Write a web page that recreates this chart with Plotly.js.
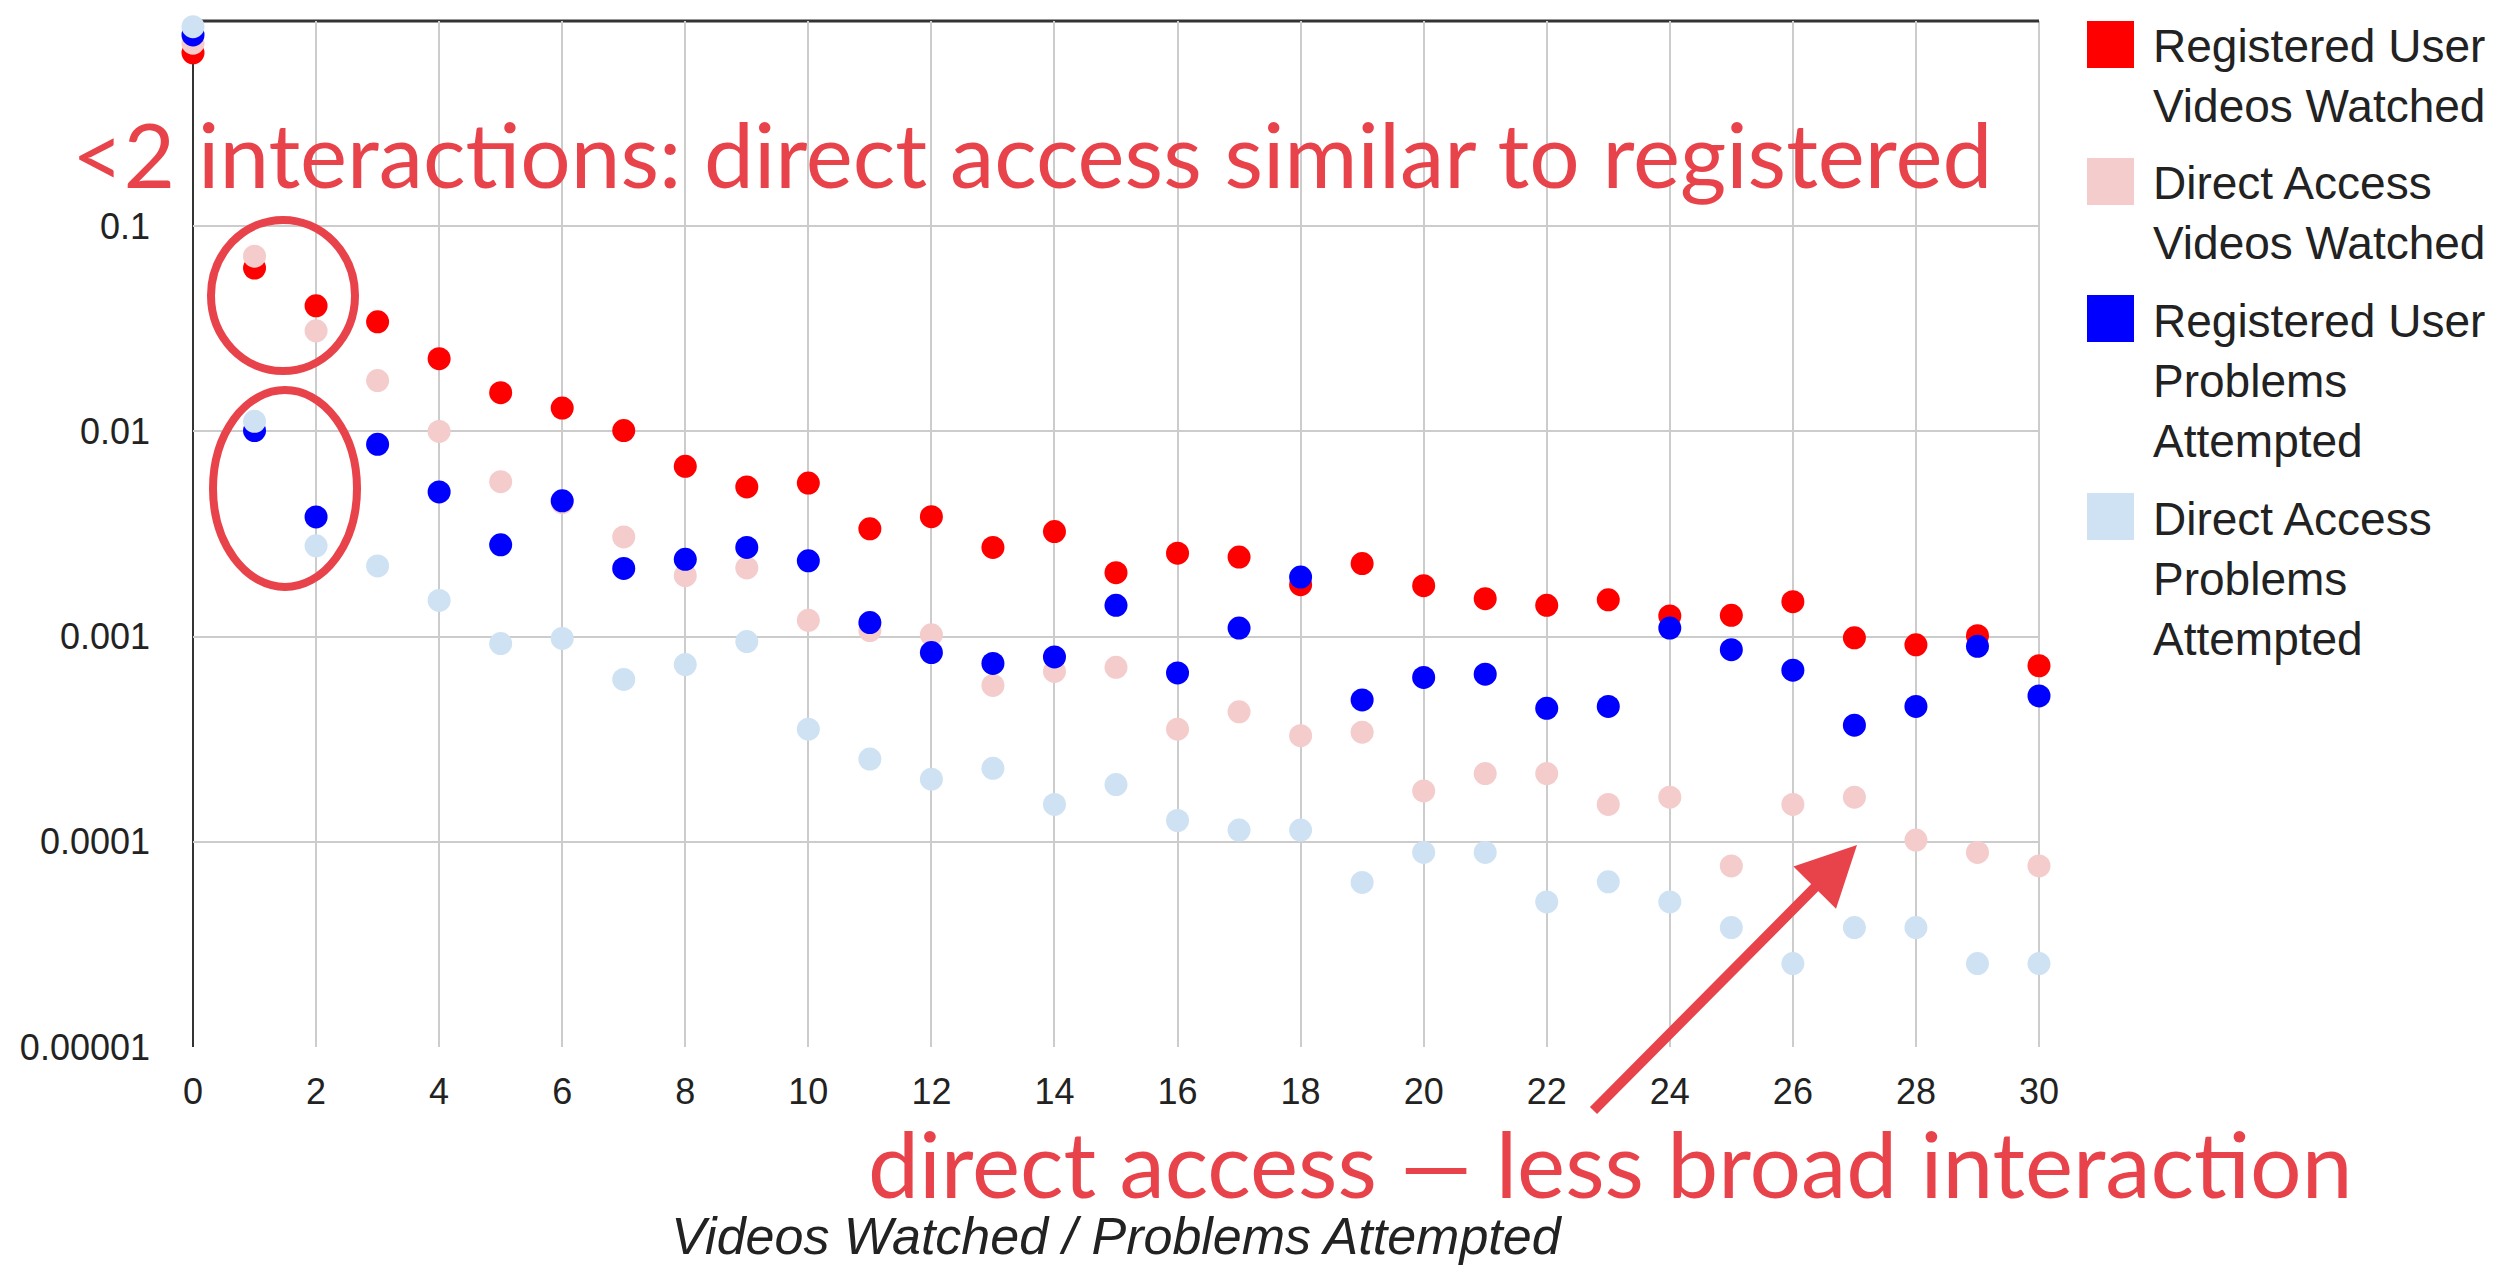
<!DOCTYPE html>
<html>
<head>
<meta charset="utf-8">
<script src="https://cdn.plot.ly/plotly-3.0.1.min.js"></script>
<style>html,body{margin:0;padding:0;background:#fff;}#chart{width:2500px;height:1265px;}</style>
</head>
<body>
<div id="chart"></div>
<script>
// ---- data ----
var interactions = [0,1,2,3,4,5,6,7,8,9,10,11,12,13,14,15,16,17,18,19,20,21,22,23,24,25,26,27,28,29,30];
var seriesNames = [
  "Registered User Videos Watched",
  "Direct Access Videos Watched",
  "Registered User Problems Attempted",
  "Direct Access Problems Attempted"
];
var legendLabels = [
  "Registered User<br>Videos Watched",
  "Direct Access<br>Videos Watched",
  "Registered User<br>Problems<br>Attempted",
  "Direct Access<br>Problems<br>Attempted"
];
var regVideos = [0.70,0.0625,0.0409,0.0342,0.0226,0.01545,0.0130,0.0101,0.00676,0.00536,0.00560,0.00335,0.00384,0.00272,0.00325,0.00205,0.00255,0.00244,0.00179,0.00227,0.00177,0.00153,0.00142,0.00151,0.00126,0.00127,0.00148,0.000987,0.000912,0.00101,0.000721];
var daVideos = [0.78,0.0714,0.0309,0.0177,0.0100,0.00569,0.0045,0.00306,0.00198,0.00216,0.00120,0.00107,0.00102,0.000578,0.000676,0.000708,0.000354,0.00043,0.000329,0.000342,0.000177,0.000215,0.000215,0.000152,0.000165,0.0000763,0.000152,0.000165,0.000102,0.0000887,0.0000763];
var regProblems = [0.855,0.0101,0.00383,0.00865,0.00507,0.0028,0.00459,0.00215,0.00238,0.00272,0.00234,0.00117,0.000836,0.00074,0.000796,0.00142,0.000665,0.0011,0.00195,0.000491,0.000632,0.000656,0.000447,0.000457,0.0011,0.000863,0.000686,0.00037,0.000457,0.000897,0.000514];
var daProblems = [0.938,0.0112,0.00277,0.00221,0.0015,0.000925,0.00098,0.000618,0.000731,0.000946,0.000354,0.000253,0.000202,0.000228,0.000152,0.00019,0.000127,0.000114,0.000114,0.0000634,0.0000887,0.0000887,0.0000509,0.0000638,0.0000509,0.0000382,0.0000255,0.0000382,0.0000382,0.0000255,0.0000255];
var colors = ["#ff0000","#f4cccc","#0000ff","#cfe2f3"];
var yTickVals = [0.00001,0.0001,0.001,0.01,0.1];
var yTickText = ["0.00001","0.0001","0.001","0.01","0.1"];
var xAxisTitle = "Videos Watched / Problems Attempted";
var note1 = "<2 interactions: direct access similar to registered";
var note2 = "direct access \u2014 less broad interaction";

// ---- geometry helpers (pixel -> paper) ----
var W = 2500, H = 1265;
var L = 193, R = 2039, T = 21, B = 1047;
function px(x){ return (x - L) / (R - L); }
function py(y){ return (B - y) / (B - T); }

var seriesValues = [regVideos, daVideos, regProblems, daProblems];
var traces = seriesValues.map(function(vals, i){
  return {
    type: "scatter", mode: "markers",
    x: interactions, y: vals, name: seriesNames[i],
    marker: {color: colors[i], size: 23, line: {width: 0}},
    showlegend: false, cliponaxis: false,
    hovertemplate: "%{x}: %{y}<extra>" + seriesNames[i] + "</extra>"
  };
});

var accent = "#e8434a";
var shapes = [
  // right border
  {type:"line", xref:"paper", yref:"paper", x0:1, x1:1, y0:0, y1:1, line:{color:"#cccccc", width:2}, layer:"below"},
  // top baseline (value 1)
  {type:"line", xref:"paper", yref:"paper", x0:0, x1:1, y0:1, y1:1, line:{color:"#333333", width:3}, layer:"below"},
  // left baseline
  {type:"line", xref:"paper", yref:"paper", x0:0, x1:0, y0:0, y1:1, line:{color:"#333333", width:2}, layer:"below"},
  // ellipses
  {type:"circle", xref:"paper", yref:"paper", x0:px(211), x1:px(355), y0:py(371), y1:py(220), line:{color:accent, width:8}},
  {type:"circle", xref:"paper", yref:"paper", x0:px(213), x1:px(357), y0:py(587), y1:py(390), line:{color:accent, width:8}}
];
var legendTops = [21, 158, 295, 493];
var legendCenters = [76, 213, 381, 579];
var annotations = [];
for (var i = 0; i < 4; i++) {
  shapes.push({type:"rect", xref:"paper", yref:"paper", x0:px(2087), x1:px(2134), y0:py(legendTops[i]+47), y1:py(legendTops[i]), line:{width:0}, fillcolor:colors[i]});
  annotations.push({xref:"paper", yref:"paper", x:px(2151), y:py(legendCenters[i]), xanchor:"left", yanchor:"middle", align:"left", showarrow:false, text:legendLabels[i], font:{family:"Arial, 'Liberation Sans', sans-serif", size:46, color:"#222222"}});
}
annotations.push({xref:"paper", yref:"paper", x:px(70), y:py(153), xanchor:"left", yanchor:"middle", showarrow:false, text:note1.replace("<","&lt;"), font:{family:"Lato, sans-serif", size:89, color:accent}});
annotations.push({xref:"paper", yref:"paper", x:px(866), y:py(1162), xanchor:"left", yanchor:"middle", showarrow:false, text:note2, font:{family:"Lato, sans-serif", size:91, color:accent}});
annotations.push({xref:"paper", yref:"paper", x:px(1857), y:py(845), ax:1592-1857, ay:1112-845, axref:"pixel", ayref:"pixel", showarrow:true, arrowhead:2, arrowsize:1.2, arrowwidth:10, arrowcolor:accent, text:""});

var layout = {
  width: W, height: H,
  margin: {l: L, r: W - R, t: T, b: H - B, pad: 0},
  paper_bgcolor: "#ffffff", plot_bgcolor: "#ffffff",
  showlegend: false,
  font: {family: "Arial, 'Liberation Sans', sans-serif", color: "#222222"},
  xaxis: {
    range: [0, 30], tickmode: "linear", tick0: 0, dtick: 2,
    showgrid: true, gridcolor: "#cccccc", gridwidth: 2,
    zeroline: false, showline: false, ticks: "",
    tickfont: {size: 36, color: "#222222"}, ticklabelstandoff: 20,
    title: {text: xAxisTitle, standoff: 108, font: {size: 52, style: "italic", color: "#222222"}}
  },
  yaxis: {
    type: "log", range: [-5, 0],
    tickmode: "array", tickvals: yTickVals, ticktext: yTickText,
    showgrid: true, gridcolor: "#cccccc", gridwidth: 2,
    zeroline: false, showline: false, ticks: "",
    tickfont: {size: 36, color: "#222222"}, ticklabelstandoff: 42
  },
  shapes: shapes,
  annotations: annotations
};
Plotly.newPlot("chart", traces, layout, {displayModeBar: false, staticPlot: true});
</script>
</body>
</html>
